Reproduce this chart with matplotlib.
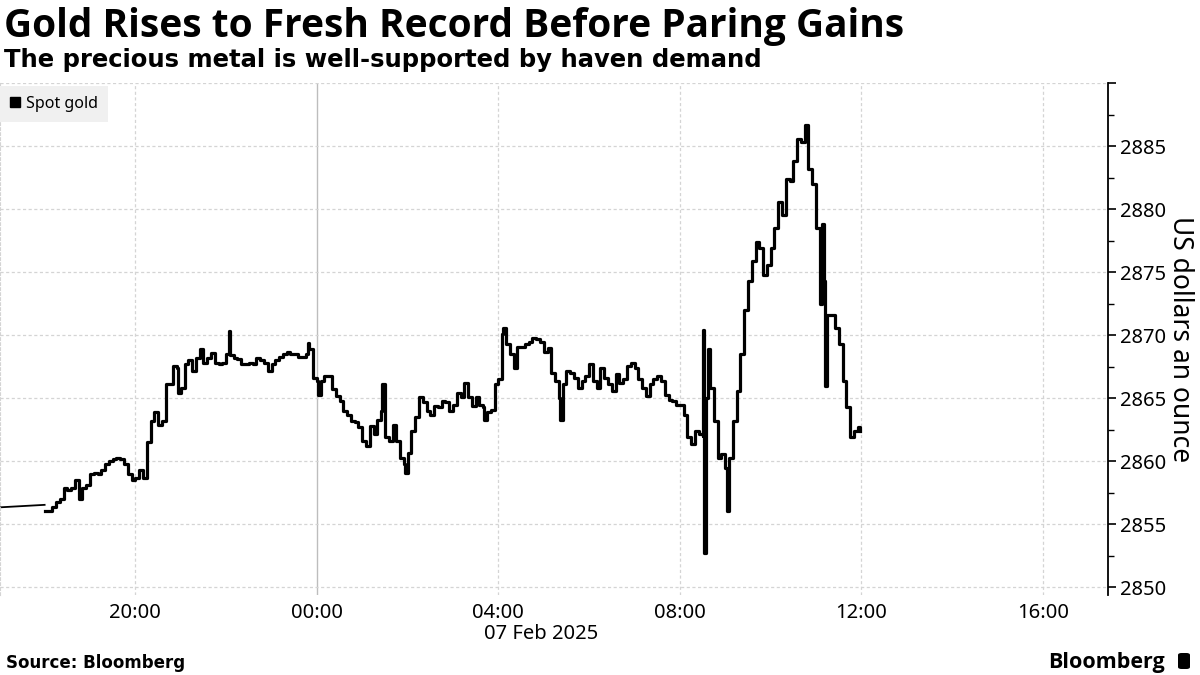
import matplotlib
matplotlib.use("Agg")
import matplotlib.pyplot as plt
import matplotlib.dates as mdates
from matplotlib.patches import Patch, FancyBboxPatch
import pandas as pd

plt.rcParams['font.family'] = ['Noto Sans', 'DejaVu Sans']
BOLD = ['Open Sans', 'DejaVu Sans']
WIDE = ['DejaVu Sans']

# last print before the daily break and first print after it
gap_times = ['2025-02-06 17:00', '2025-02-06 18:00']
gap_vals = [2856.35, 2856.55]

# spot gold, 5-minute readings from 18:00 on 6 Feb to 11:55 on 7 Feb
session_start = '2025-02-06 18:00'
gold_5min = [
    # 18:00
    2856.1, 2856.1, 2856.4, 2856.8, 2857.0, 2857.9, 2857.7, 2857.9, 2858.5, 2858.3, 2857.9, 2858.1,
    # 19:00
    2859.0, 2859.1, 2859.0, 2859.3, 2859.8, 2860.0, 2860.2, 2860.3, 2860.2, 2859.8, 2859.0, 2858.5,
    # 20:00
    2858.7, 2859.3, 2858.7, 2861.5, 2863.2, 2863.9, 2862.9, 2863.2, 2866.1, 2866.1, 2867.6, 2867.4,
    # 21:00
    2865.8, 2867.7, 2868.0, 2867.2, 2868.2, 2868.9, 2867.8, 2868.2, 2868.6, 2867.8, 2867.7, 2867.8,
    # 22:00
    2868.5, 2868.4, 2868.2, 2868.1, 2867.7, 2867.7, 2867.8, 2867.7, 2868.2, 2868.0, 2867.8, 2867.2,
    # 23:00
    2867.7, 2868.0, 2868.3, 2868.5, 2868.7, 2868.5, 2868.5, 2868.3, 2868.3, 2868.5, 2868.9, 2866.6,
    # 00:00
    2866.4, 2866.4, 2866.8, 2866.8, 2865.7, 2865.2, 2864.8, 2864.0, 2863.7, 2863.2, 2863.1, 2862.7,
    # 01:00
    2861.6, 2861.2, 2862.8, 2862.2, 2863.3, 2864.0, 2861.9, 2861.6, 2862.9, 2861.6, 2860.3, 2859.8,
    # 02:00
    2860.7, 2862.4, 2863.5, 2865.1, 2864.7, 2864.0, 2863.7, 2864.4, 2864.3, 2864.8, 2864.7, 2864.0,
    # 03:00
    2864.5, 2865.4, 2865.1, 2866.2, 2865.1, 2864.4, 2865.1, 2864.5, 2864.3, 2863.9, 2864.1, 2866.1,
    # 04:00
    2866.5, 2870.1, 2869.3, 2868.5, 2867.4, 2869.1, 2869.1, 2869.3, 2869.5, 2869.8, 2869.7, 2869.5,
    # 05:00
    2868.7, 2869.0, 2867.0, 2866.4, 2865.0, 2866.1, 2867.2, 2867.0, 2866.6, 2865.8, 2866.4, 2866.8,
    # 06:00
    2867.7, 2866.4, 2865.8, 2867.4, 2866.6, 2866.1, 2865.6, 2866.9, 2866.2, 2866.5, 2867.6, 2867.8,
    # 07:00
    2867.4, 2866.5, 2865.8, 2865.2, 2866.1, 2866.5, 2866.8, 2866.4, 2865.3, 2864.9, 2864.8, 2864.5,
    # 08:00
    2864.5, 2863.7, 2861.9, 2861.4, 2862.4, 2862.2, 2862.0, 2865.0, 2865.8, 2863.2, 2860.3, 2860.6,
    # 09:00
    2859.5, 2860.3, 2863.2, 2865.6, 2868.5, 2872.0, 2874.3, 2875.9, 2877.4, 2876.9, 2874.8, 2875.6,
    # 10:00
    2876.9, 2878.5, 2880.6, 2879.5, 2882.4, 2882.2, 2883.8, 2885.6, 2885.3, 2886.4, 2883.2, 2882.0,
    # 11:00
    2878.5, 2872.5, 2874.3, 2871.6, 2871.6, 2870.6, 2869.3, 2866.4, 2864.3, 2861.9, 2862.4, 2862.7,
]

# short-lived highs and lows between the 5-minute readings
spike_times = [
    '2025-02-06 18:46', '2025-02-06 20:56', '2025-02-06 22:04', '2025-02-06 23:48',
    '2025-02-07 00:02', '2025-02-07 01:26', '2025-02-07 01:56', '2025-02-07 03:41',
    '2025-02-07 04:06', '2025-02-07 05:21', '2025-02-07 08:31', '2025-02-07 08:32',
    '2025-02-07 08:37', '2025-02-07 09:02', '2025-02-07 10:46', '2025-02-07 11:08',
    '2025-02-07 11:12', '2025-02-07 11:58',
]
spike_vals = [
    2857.0, 2865.4, 2870.3, 2869.4,
    2865.3, 2866.1, 2859.1, 2863.3,
    2870.6, 2863.3, 2870.4, 2852.7,
    2868.9, 2856.1, 2886.7, 2878.8,
    2866.0, 2862.4,
]

x_ticks = ['2025-02-06 20:00', '2025-02-07 00:00', '2025-02-07 04:00',
           '2025-02-07 08:00', '2025-02-07 12:00', '2025-02-07 16:00']
x_range = ['2025-02-06 17:01', '2025-02-07 17:26']
y_ticks = [2850, 2855, 2860, 2865, 2870, 2875, 2880, 2885, 2890]
y_range = (2849.4, 2890.0)

regular = pd.Series(gold_5min, index=pd.date_range(session_start, periods=len(gold_5min), freq='5min'))
spikes = pd.Series(spike_vals, index=pd.to_datetime(spike_times))
gold = pd.concat([regular, spikes]).sort_index()

fig = plt.figure(figsize=(12, 6.75), dpi=100)
ax = fig.add_axes([0.0, 0.1185, 0.9233, 0.7585])

ax.plot(pd.to_datetime(gap_times), gap_vals, color='black', lw=1.3)
ax.plot(gold.index, gold.values, drawstyle='steps-post', color='black', lw=2.3)

ax.set_xlim(pd.to_datetime(x_range[0]), pd.to_datetime(x_range[1]))
ax.set_ylim(*y_range)

# vertical grid: solid at the day change, dashed elsewhere
for t in x_ticks:
    ts = pd.to_datetime(t)
    if ts.hour == 0:
        ax.axvline(ts, color='#bdbdbd', lw=1.0, zorder=0)
    else:
        ax.axvline(ts, color='#d4d4d4', lw=0.9, ls=(0, (2.5, 2)), zorder=0)
for v in y_ticks:
    ax.axhline(v, color='#d4d4d4', lw=0.9, ls=(0, (2.5, 2)), zorder=0)

ax.set_xticks(pd.to_datetime(x_ticks))
ax.xaxis.set_major_formatter(mdates.DateFormatter('%H:%M'))
ax.tick_params(axis='x', length=0, labelsize=14.5, pad=6)

ax.yaxis.tick_right()
ax.yaxis.set_label_position('right')
ax.set_yticks(y_ticks)
ax.set_yticklabels([str(v) if v < 2890 else '' for v in y_ticks])
ax.set_yticks([v + 2.5 for v in y_ticks[:-1]], minor=True)
ax.tick_params(axis='y', which='major', direction='out', length=6, width=1.2, labelsize=14.5, pad=3)
ax.tick_params(axis='y', which='minor', direction='out', length=4, width=1.0)
ax.set_ylabel('US dollars an ounce', rotation=270, fontsize=19, va='center')
ax.yaxis.set_label_coords(1180 / 1108, 0.5)

for side in ['top', 'bottom']:
    ax.spines[side].set_visible(False)
ax.spines['left'].set_color('#d4d4d4')
ax.spines['left'].set_linestyle((0, (2.5, 2)))
ax.spines['right'].set_linewidth(1.3)

leg = ax.legend(handles=[Patch(facecolor='black', edgecolor='black', label='Spot gold')],
                loc='upper left', bbox_to_anchor=(0.0, 0.995), fontsize=11.5,
                handlelength=0.6, handleheight=0.6, handletextpad=0.35,
                borderpad=0.65, frameon=True, fancybox=False, borderaxespad=0.0)
leg.get_frame().set_facecolor('#f0f0f0')
leg.get_frame().set_edgecolor('none')
leg.get_frame().set_alpha(1.0)

fig.text(0.003, 1 - 37 / 675, 'Gold Rises to Fresh Record Before Paring Gains',
         fontsize=28, fontweight='bold', family=BOLD, va='baseline', ha='left')
fig.text(0.003, 1 - 67 / 675, 'The precious metal is well-supported by haven demand',
         fontsize=17.5, fontweight='bold', family=WIDE, va='baseline', ha='left')
fig.text(541 / 1200, 1 - 634 / 675, '07 Feb 2025', fontsize=14.5, ha='center', va='center')
fig.text(0.005, 1 - 668 / 675, 'Source: Bloomberg', fontsize=12, fontweight='bold',
         family=WIDE, ha='left', va='baseline')
fig.text(0.971, 1 - 668 / 675, 'Bloomberg', fontsize=15.5, fontweight='bold',
         family=BOLD, ha='right', va='baseline')
fig.patches.append(FancyBboxPatch((1178 / 1200, 1 - 669 / 675), 12 / 1200, 16 / 675,
                                  boxstyle='round,pad=0,rounding_size=0.003',
                                  transform=fig.transFigure, facecolor='black',
                                  edgecolor='none'))

fig.savefig('out.png', dpi=100)
